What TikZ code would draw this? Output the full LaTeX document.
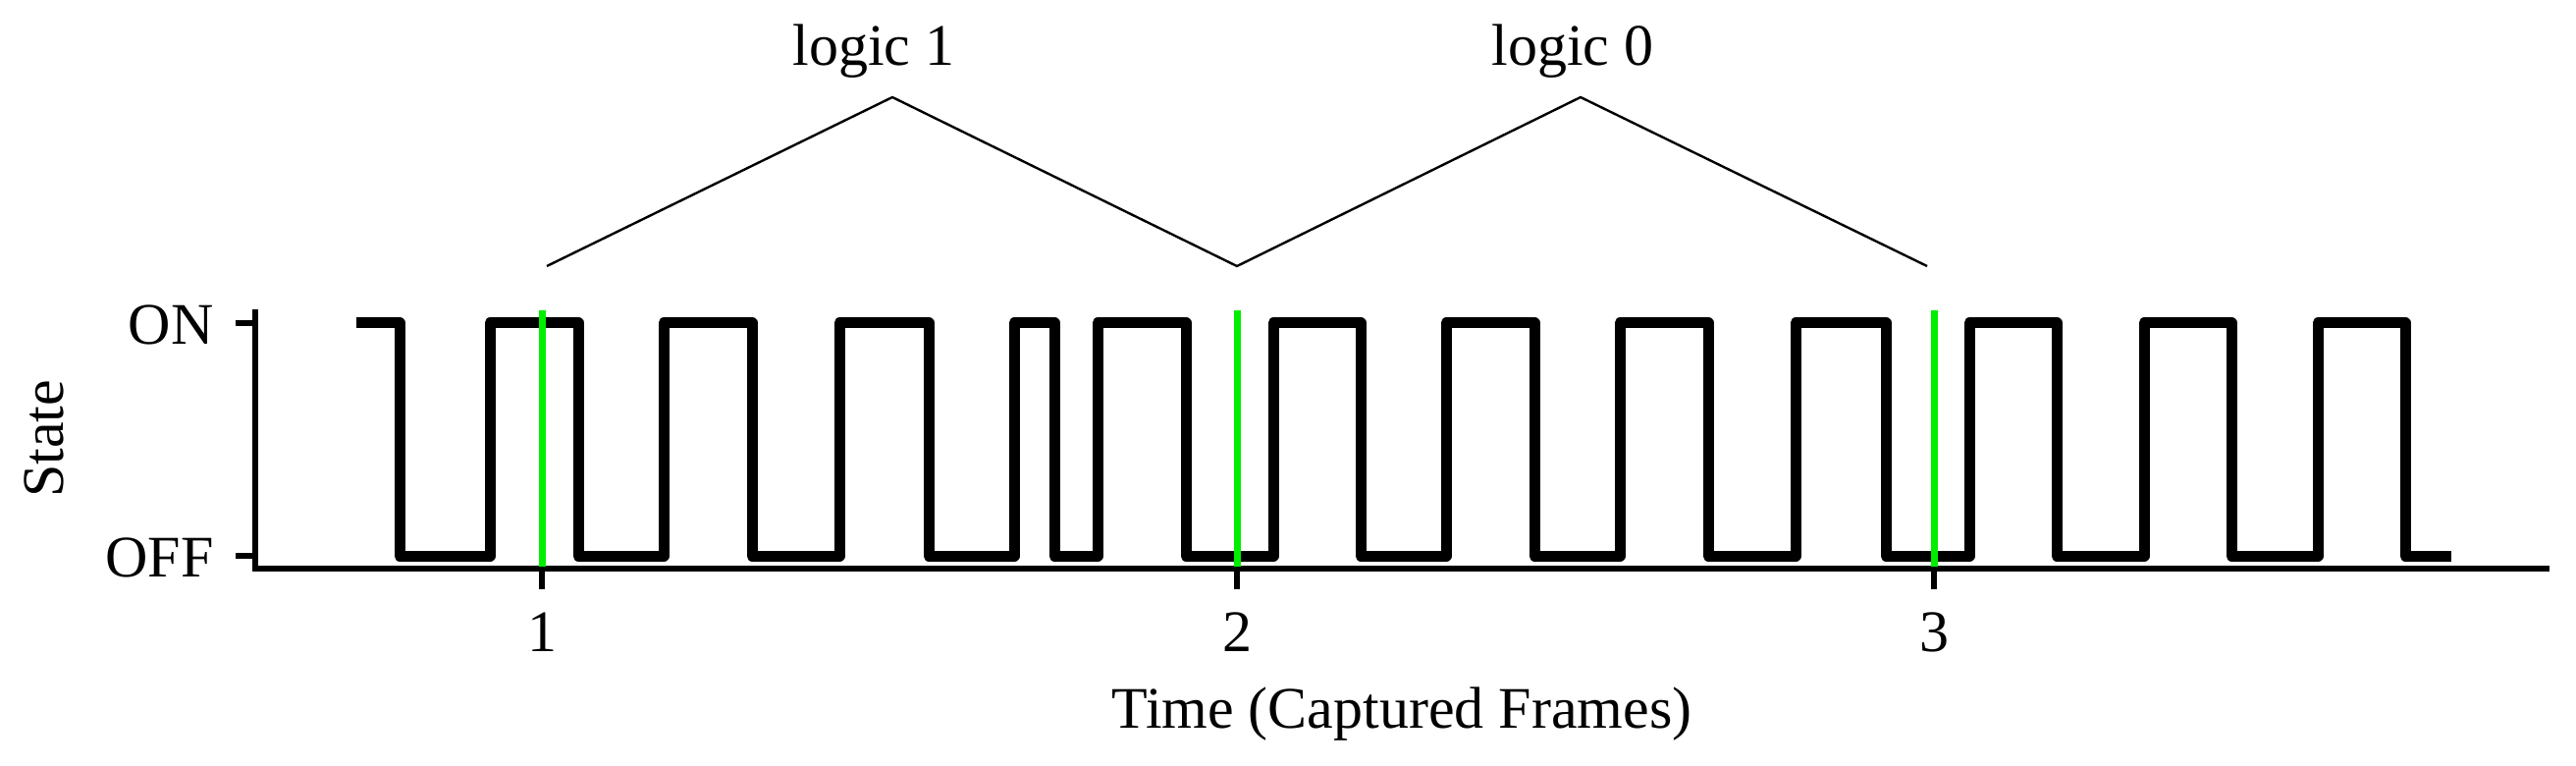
\documentclass[tikz,border=0pt]{standalone}
\usepackage{fontspec}
\setmainfont{Liberation Serif}
\begin{document}
\begin{tikzpicture}[x=0.5pt,y=-0.5pt,
  lbl/.style={font=\fontsize{30}{36}\selectfont,inner sep=0pt},
  axisline/.style={line width=2.8pt},
  wave/.style={line width=5.5pt,line join=round},
  marker/.style={line width=3.5pt,draw={rgb,255:red,0;green,238;blue,0}},
  brace/.style={line width=1.2pt}]
\useasboundingbox (0,0) rectangle (2624,780);
% axes
\coordinate (ytop) at (260,315);
\coordinate (orig) at (260,579);
\coordinate (xend) at (2597,579);
\draw[axisline] (ytop) -- (orig) -- (xend);
\draw[axisline] (240,329) -- (260,329);
\draw[axisline] (240,566) -- (260,566);
\node[lbl,anchor=east] (on) at (218,331) {ON};
\node[lbl,anchor=east] (off) at (218,568) {OFF};
\node[lbl,rotate=90] (state) at (45,447) {State};
% ticks and labels
\foreach \x/\n in {552/1,1260/2,1970/3}{
  \draw[axisline] (\x,579) -- (\x,600);
  \node[lbl] (t\n) at (\x,644) {\n};
}
\node[lbl] (title) at (1428,727) {Time (Captured Frames)};
% waveform
\draw[wave] (363,329) -- (407,329) -- (407,566) -- (499,566) -- (499,329)
 -- (589,329) -- (589,566) -- (676,566) -- (676,329)
 -- (766,329) -- (766,566) -- (855,566) -- (855,329)
 -- (946,329) -- (946,566) -- (1033,566) -- (1033,329)
 -- (1074,329) -- (1074,566) -- (1118,566) -- (1118,329)
 -- (1208,329) -- (1208,566) -- (1297,566) -- (1297,329)
 -- (1386,329) -- (1386,566) -- (1473,566) -- (1473,329)
 -- (1563,329) -- (1563,566) -- (1650,566) -- (1650,329)
 -- (1740,329) -- (1740,566) -- (1829,566) -- (1829,329)
 -- (1921,329) -- (1921,566) -- (2006,566) -- (2006,329)
 -- (2095,329) -- (2095,566) -- (2184,566) -- (2184,329)
 -- (2273,329) -- (2273,566) -- (2361,566) -- (2361,329)
 -- (2450,329) -- (2450,566) -- (2497,566);
% green markers
\foreach \x in {552,1260,1970}{
  \draw[marker] (\x,316) -- (\x,577);
}
% logic braces
\coordinate (b0) at (557,271);
\coordinate (p1) at (909,99);
\coordinate (b1) at (1260,271);
\coordinate (p2) at (1610,99);
\coordinate (b2) at (1963,271);
\draw[brace] (b0) -- (p1) -- (b1) -- (p2) -- (b2);
\node[lbl] (l1) at (890,52) {logic 1};
\node[lbl] (l0) at (1602,52) {logic 0};
\end{tikzpicture}
\end{document}
